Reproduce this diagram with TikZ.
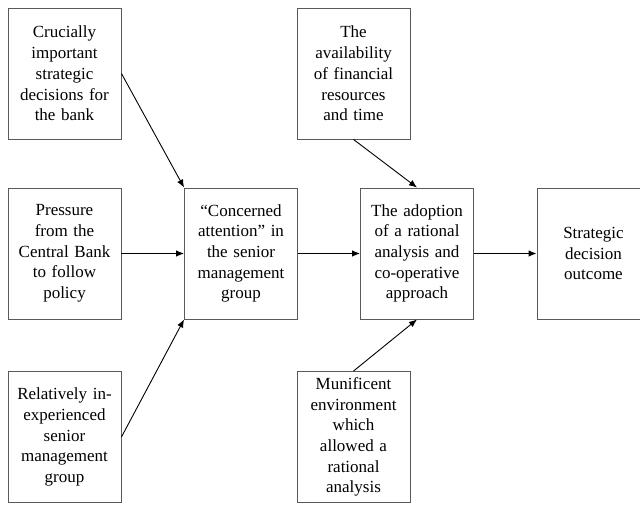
\documentclass[tikz,border=0pt]{standalone}
\usepackage{fontspec}
\setmainfont{Liberation Serif}
\usetikzlibrary{arrows,arrows.meta}

\begin{document}
\begin{tikzpicture}[x=1pt,y=-1pt]
	\tikzstyle{every node}+=[inner sep=0pt]
	\tikzstyle{factor}=[draw=black!65,line width=0.9pt,minimum width=113pt,minimum height=131pt,text width=106pt,align=center,font=\fontsize{17}{20.7}\selectfont]
	\tikzstyle{link}=[black,line width=0.9pt,-{Latex[length=8pt,width=6.5pt]}]
	\clip (0,0) rectangle (640,505);
	\node [factor] (crucial) at (64.5,73.5) {Crucially\\important\\strategic\\decisions for\\the bank};
	\node [factor] (pressure) at (64.5,253.5) {Pressure\\from the\\Central Bank\\to follow\\policy};
	\node [factor] (inexp) at (64.5,437) {Relatively in-\\experienced\\senior\\management\\group};
	\node [factor] (concern) at (241,253.5) {“Concerned\\attention” in\\the senior\\management\\group};
	\node [factor] (avail) at (353.5,73.5) {The\\availability\\of financial\\resources\\and time};
	\node [factor] (adopt) at (417,253.5) {The adoption\\of a rational\\analysis and\\co-operative\\approach};
	\node [factor] (munif) at (353.5,437) {Munificent\\environment\\which\\allowed a\\rational\\analysis};
	\node [factor] (outcome) at (593.5,253.5) {Strategic\\decision\\outcome};
	\draw [link] (crucial.east) -- (concern.north west);
	\draw [link] (pressure.east) -- (concern.west);
	\draw [link] (inexp.east) -- (concern.south west);
	\draw [link] (concern.east) -- (adopt.west);
	\draw [link] (avail.south) -- (adopt.north);
	\draw [link] (munif.north) -- (adopt.south);
	\draw [link] (adopt.east) -- (outcome.west);
\end{tikzpicture}
\end{document}
